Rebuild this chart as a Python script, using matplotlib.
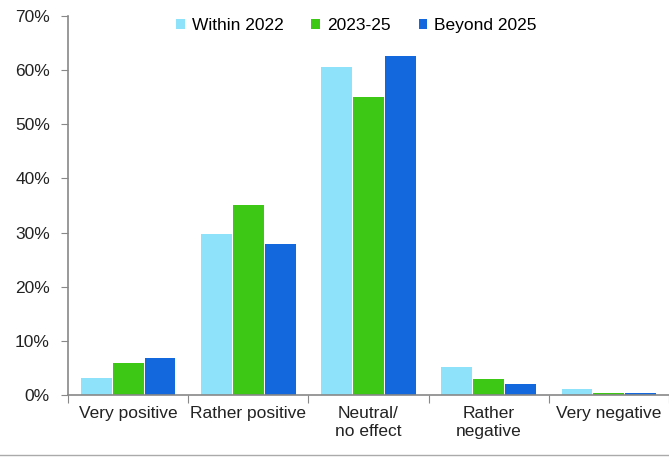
import matplotlib
matplotlib.use("Agg")
import matplotlib.pyplot as plt
import numpy as np

plt.rcParams['font.family'] = ['Liberation Sans', 'DejaVu Sans']

categories = ["Very positive", "Rather positive", "Neutral/\nno effect", "Rather\nnegative", "Very negative"]
series_names = ["Within 2022", "2023-25", "Beyond 2025"]
within_2022 = [3.1, 29.8, 60.6, 5.2, 1.1]
y2023_25 = [5.9, 35.1, 55.1, 3.0, 0.4]
beyond_2025 = [6.8, 27.9, 62.7, 2.0, 0.4]
yticks = [0, 10, 20, 30, 40, 50, 60, 70]

colors = ["#8EE2FA", "#3CC814", "#1268DC"]

fig = plt.figure(figsize=(6.69, 4.61), dpi=100)
ax = fig.add_axes([68/669, 1-395/461, 1-68/669, (395-16)/461])

x = np.arange(len(categories))
w = 0.265
for i, (vals, c, name) in enumerate(zip([within_2022, y2023_25, beyond_2025], colors, series_names)):
    ax.bar(x + (i-1)*w, vals, width=w*0.97, color=c, label=name, edgecolor='none')

ax.set_xlim(-0.5, len(categories)-0.5)
ax.set_ylim(0, 70)
ax.set_yticks(yticks)
ax.set_yticklabels([f"{t}%" for t in yticks], fontsize=12.5, color='#222222')
ax.set_xticks(np.arange(-0.5, len(categories), 1.0))
ax.set_xticklabels([])
ax.set_xticks(x, minor=True)
ax.set_xticklabels(categories, minor=True, fontsize=12.5, color='#222222')
ax.tick_params(axis='x', which='minor', length=0, pad=8)
ax.tick_params(axis='x', which='major', length=6, color='#888888', direction='out')
ax.tick_params(axis='y', length=5, color='#888888', direction='out', pad=8)
for s in ['top', 'right']:
    ax.spines[s].set_visible(False)
for s in ['left', 'bottom']:
    ax.spines[s].set_color('#888888')
    ax.spines[s].set_linewidth(1.2)

leg = ax.legend(loc='upper center', bbox_to_anchor=(0.48, 1.035), ncol=3, frameon=False,
                fontsize=12.5, handlelength=0.5, handleheight=0.5, handletextpad=0.4,
                columnspacing=1.6)

fig.add_artist(plt.Line2D([0, 1], [1-455/461, 1-455/461], color='#aaaaaa', linewidth=1))

fig.savefig("out.png", dpi=100, facecolor='white')
